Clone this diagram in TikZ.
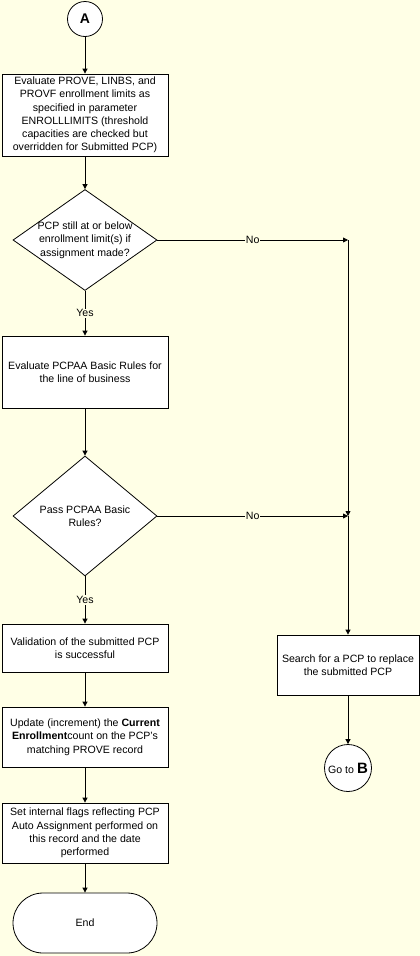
\documentclass[tikz,border=0pt]{standalone}
\usepackage{fontspec}
\setmainfont{Liberation Sans}
\usepackage{xcolor}
\usetikzlibrary{shapes.geometric,arrows.meta}
\definecolor{paper}{RGB}{255,255,230}

\begin{document}
\begin{tikzpicture}[x=1pt,y=-1pt,line width=0.8pt,
        font=\fontsize{10.6}{13.3}\selectfont,
        flow/.style={-{Triangle[length=5pt,width=5pt]}},
        procbox/.style={draw,fill=white,rectangle,minimum width=166pt,inner sep=2pt,align=center},
        decbox/.style={draw,fill=white,diamond,minimum width=144pt,inner sep=0pt},
        connbox/.style={draw,fill=white,circle,inner sep=0pt,align=center},
        lbl/.style={fill=paper,inner sep=1pt}]
        \fill[paper] (0,0) rectangle (420,956);
        % main column
        \node[connbox,minimum size=35pt] (A) at (85,19) {\fontsize{14}{14}\selectfont\bfseries A};
        \node[procbox,minimum height=82pt] (ev1) at (85,115) {Evaluate PROVE, LINBS, and\\PROVF enrollment limits as\\specified in parameter\\ENROLLLIMITS (threshold\\capacities are checked but\\overridden for Submitted PCP)};
        \node[decbox,minimum height=101pt] (d1) at (85,240) {};
        \node[align=center] (d1t) at (d1) {PCP still at or below\\enrollment limit(s) if\\assignment made?};
        \node[procbox,minimum height=72pt] (ev2) at (85,372) {Evaluate PCPAA Basic Rules for\\the line of business};
        \node[decbox,minimum height=120pt] (d2) at (85,516) {};
        \node[align=center] (d2t) at (d2) {Pass PCPAA Basic\\Rules?};
        \node[procbox,minimum height=48pt] (val) at (85,648) {Validation of the submitted PCP\\is successful};
        \node[procbox,minimum height=60pt] (upd) at (85,737) {Update (increment) the \textbf{Current}\\\textbf{Enrollment}count on the PCP's\\matching PROVE record};
        \node[procbox,minimum height=60pt] (flg) at (85,833) {Set internal flags reflecting PCP\\Auto Assignment performed on\\this record and the date\\performed};
        \node[draw,fill=white,rounded corners=30pt,minimum width=144pt,minimum height=60pt] (endn) at (85,923) {End};
        % right column
        \coordinate (j1) at (348,240);
        \coordinate (j2) at (348,516);
        \node[procbox,minimum width=142pt,minimum height=60pt] (srch) at (348,665) {Search for a PCP to replace\\the submitted PCP};
        \node[connbox,minimum size=47pt] (goB) at (348,768) {Go to {\fontsize{15}{15}\selectfont\bfseries B}};
        % connectors
        \draw[flow] (A) -- (ev1);
        \draw[flow] (ev1) -- (d1);
        \draw[flow] (d1) -- node[lbl]{Yes} (ev2);
        \draw[flow] (ev2) -- (d2);
        \draw[flow] (d2) -- node[lbl]{Yes} (val);
        \draw[flow] (val) -- (upd);
        \draw[flow] (upd) -- (flg);
        \draw[flow] (flg) -- (endn);
        \draw[flow] (d1.east) -- node[lbl]{No} (j1);
        \draw[flow] (d2.east) -- node[lbl]{No} (j2);
        \draw[flow] (j1) -- (j2);
        \draw[flow] (j2) -- (srch);
        \draw[flow] (srch) -- (goB);
    \end{tikzpicture}
\end{document}
